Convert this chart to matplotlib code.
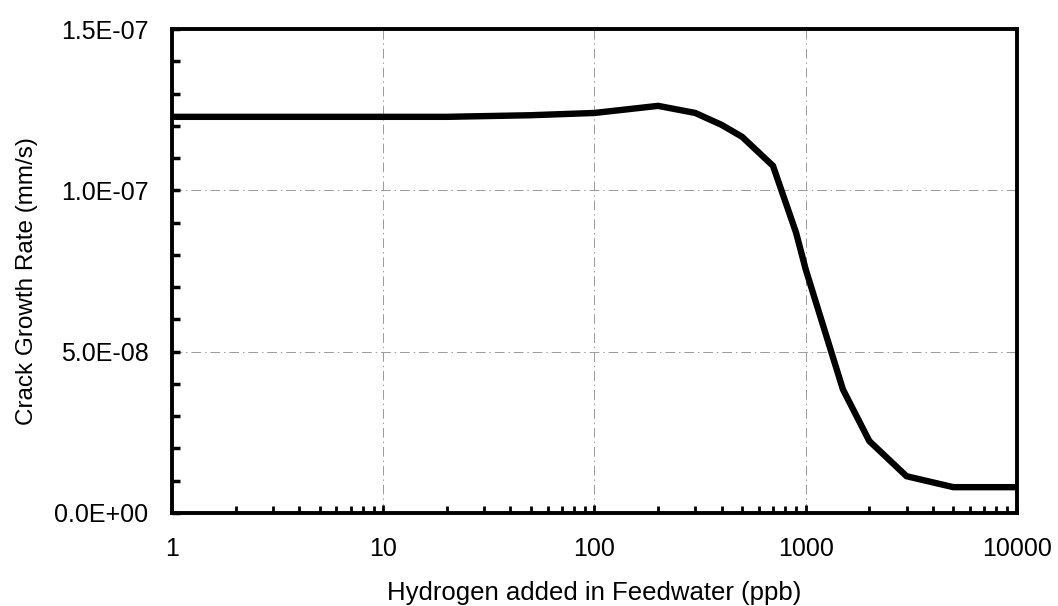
import matplotlib
matplotlib.use("Agg")
import matplotlib.pyplot as plt
from matplotlib.ticker import FixedLocator, FuncFormatter, MultipleLocator, NullFormatter

plt.rcParams['font.family'] = ['Liberation Sans', 'DejaVu Sans']

# Hydrogen addition (ppb) and modelled crack growth rate (mm/s)
hydrogen_ppb = [1, 10, 20, 50, 100, 200, 300, 400, 500, 700, 900, 1000, 1500, 2000, 3000, 5000, 10000]
growth_rate = [1.228e-7, 1.228e-7, 1.228e-7, 1.233e-7, 1.240e-7, 1.262e-7, 1.240e-7, 1.203e-7,
               1.166e-7, 1.076e-7, 0.869e-7, 0.755e-7, 0.383e-7, 0.223e-7, 0.114e-7, 0.080e-7, 0.080e-7]

x_major = [1, 10, 100, 1000, 10000]
y_major = [0.0, 5.0e-8, 1.0e-7, 1.5e-7]

x_label = "Hydrogen added in Feedwater (ppb)"
y_label = "Crack Growth Rate (mm/s)"

fig = plt.figure(figsize=(10.58, 6.06), dpi=100)
ax = fig.add_axes([0.1626, 0.1535, 0.7986, 0.7985])

ax.plot(hydrogen_ppb, growth_rate, color='black', lw=4.6, solid_joinstyle='miter', zorder=3)

ax.set_xscale('log')
ax.set_xlim(1, 10000)
ax.set_ylim(0, 1.5e-7)

ax.xaxis.set_major_locator(FixedLocator(x_major))
ax.xaxis.set_major_formatter(FuncFormatter(lambda v, p: f"{v:g}"))
minor_x = [m * 10**d for d in range(0, 4) for m in range(2, 10)]
ax.xaxis.set_minor_locator(FixedLocator(minor_x))
ax.xaxis.set_minor_formatter(NullFormatter())

ax.yaxis.set_major_locator(FixedLocator(y_major))
ax.yaxis.set_minor_locator(MultipleLocator(1e-8))
ax.yaxis.set_major_formatter(FuncFormatter(lambda v, p: f"{v:.1E}"))

ax.grid(True, which='major', color='#9a9a9a', lw=0.7, linestyle=(0, (10, 4, 1.5, 4)))
ax.set_axisbelow(True)

for s in ax.spines.values():
    s.set_linewidth(2.8)
    s.set_color('black')

ax.tick_params(axis='both', which='both', direction='in', color='black', labelsize=18)
ax.tick_params(axis='y', which='both', length=6, width=2.5, pad=17)
ax.tick_params(axis='x', which='both', length=5, width=2, pad=17)
ax.tick_params(axis='x', which='major', length=6)
ax.tick_params(top=False, right=False)

ax.set_xlabel(x_label, fontsize=18.5, labelpad=15)
ax.set_ylabel(y_label, fontsize=17.5)
ax.yaxis.set_label_coords(-0.159, 0.48)

fig.savefig("out.png", dpi=100, facecolor='white')
